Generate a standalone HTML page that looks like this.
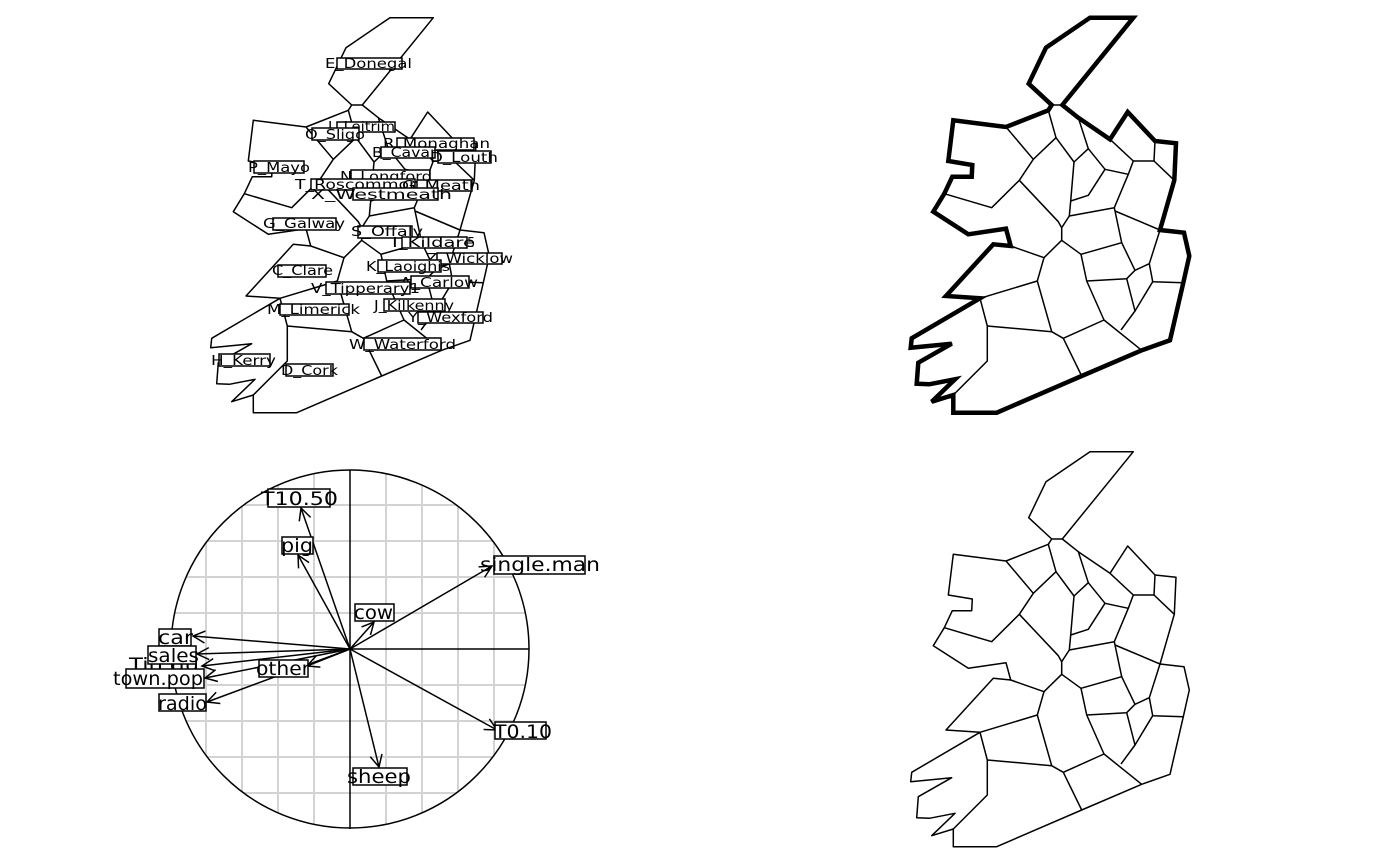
<!DOCTYPE html>
<html><head><meta charset="utf-8"><style>
html,body{margin:0;padding:0;background:#fff;}
svg{display:block;}
.m{font-family:"DejaVu Sans","Liberation Sans",sans-serif;font-size:13px;fill:#000;}
.c{font-family:"DejaVu Sans","Liberation Sans",sans-serif;font-size:19px;fill:#000;}
.b{fill:#fff;stroke:#000;stroke-width:1.5;}
</style></head><body>
<svg width="1400" height="866" viewBox="0 0 1400 866" xmlns="http://www.w3.org/2000/svg">
<defs>
<g id="map" fill="none" stroke="#000" stroke-width="1.5" stroke-linejoin="round">
<path d="M1090,451.7 L1133.3,451.7 L1062.3,539 L1051.7,539 L1028.7,517.7 L1046,481.7 Z"/>
<path d="M1051.7,539 L1048.3,544.3 L1006,561 L953.3,554.3 L948.3,595 L972.3,599 L971.7,610.7 L952.3,610.7 L944.3,627.7 L991.7,641.7 L1019.3,614.3 L1033.3,593.3 L1006,561"/>
<path d="M944.3,627.7 L933.3,645.7 L968.3,668.3 L1006,662.7 L1010.7,680 L993.3,678.3 L946,730 L980,732.3"/>
<path d="M1048.3,544.3 L1056,571.7 L1033.3,593.3"/>
<path d="M1056,571.7 L1074,596 L1070.7,635 L1069.3,650 L1061.7,661.7 L1061.7,674.3 L1044,691.7 L1010.7,680"/>
<path d="M1062.3,539 L1078.3,551.7 L1088.3,582.7 L1074,596"/>
<path d="M1088.3,582.7 L1105,603.3 L1088.3,629.3 L1070.7,635"/>
<path d="M1078.3,551.7 L1110,573.3 L1133.3,595 L1128.3,608.3 L1105,603.3"/>
<path d="M1110,573.3 L1127.7,546 L1155,575 L1154,595 L1133.3,595"/>
<path d="M1155,575 L1176,577.3 L1174.3,614.3 L1154,595"/>
<path d="M1128.3,608.3 L1114.3,641.7 L1069.3,650"/>
<path d="M1114.3,641.7 L1115,645 L1121.7,676.7 L1135,704.3 L1149.3,697.7 L1160,664"/>
<path d="M1115,645 L1160,664"/>
<path d="M1174.3,614.3 L1160,664 L1184,666.7 L1189.3,690 L1183.3,716.7 L1170,774.3 L1141.7,784.3 L1081.7,810 L996.7,846.7 L953.3,846.7 L953.3,829 L931.7,835.7 L955,813.3 L929.3,818.3 L916.7,817.7 L918.3,796.7 L951.7,777.7 L910.7,781.7 L911.7,772.3 L980,732.3"/>
<path d="M1019.3,614.3 L1058.3,655.7 L1061.7,661.7"/>
<path d="M1061.7,674.3 L1081,688.3 L1121.7,676.7"/>
<path d="M1081,688.3 L1086.7,715 L1126.7,712.7 L1135,704.3"/>
<path d="M1126.7,712.7 L1135,745 L1121,764"/>
<path d="M1149.3,697.7 L1152.7,715.7 L1183.3,716.7"/>
<path d="M1152.7,715.7 L1135,745"/>
<path d="M1044,691.7 L1037.3,715 L980,732.3"/>
<path d="M980,732.3 L987.3,760 L987.3,795 L953.3,829"/>
<path d="M987.3,760 L1051.7,765.7 L1037.3,715"/>
<path d="M1051.7,765.7 L1063.3,772.3 L1081.7,810"/>
<path d="M1063.3,772.3 L1104,754 L1086.7,715"/>
<path d="M1104,754 L1141.7,784.3"/>
</g>
<marker id="ah" markerUnits="userSpaceOnUse" markerWidth="30" markerHeight="30" viewBox="-15 -15 30 30" refX="0" refY="0" orient="auto">
<path d="M-12,-6 L0,0 L-12,6" fill="none" stroke="#000" stroke-width="1.5"/>
</marker>
<clipPath id="cc"><circle cx="350" cy="649" r="179"/></clipPath>
</defs>

<!-- bottom-right map -->
<use href="#map"/>
<!-- top-right map -->
<use href="#map" transform="translate(0,-434)"/>
<path transform="translate(0,-434)" fill="none" stroke="#000" stroke-width="4.5" stroke-linejoin="miter" d="M1090,451.7 L1133.3,451.7 L1062.3,539 L1078.3,551.7 L1110,573.3 L1127.7,546 L1155,575 L1176,577.3 L1174.3,614.3 L1160,664 L1184,666.7 L1189.3,690 L1183.3,716.7 L1170,774.3 L1141.7,784.3 L1081.7,810 L996.7,846.7 L953.3,846.7 L953.3,829 L931.7,835.7 L955,813.3 L929.3,818.3 L916.7,817.7 L918.3,796.7 L951.7,777.7 L910.7,781.7 L911.7,772.3 L980,732.3 L946,730 L993.3,678.3 L1010.7,680 L1006,662.7 L968.3,668.3 L933.3,645.7 L944.3,627.7 L952.3,610.7 L971.7,610.7 L972.3,599 L948.3,595 L953.3,554.3 L1006,561 L1048.3,544.3 L1051.7,539 L1028.7,517.7 L1046,481.7 Z"/>
<!-- top-left map -->
<use href="#map" transform="translate(-700,-434)"/>

<!-- top-left labels -->
<g>
<rect class="b" x="337" y="58" width="65" height="11"/><text class="m" x="325" y="68" textLength="87" lengthAdjust="spacingAndGlyphs">E_Donegal</text>
<rect class="b" x="337" y="122" width="58" height="10"/><text class="m" x="328" y="131" textLength="67" lengthAdjust="spacingAndGlyphs">L_Leitrim</text>
<rect class="b" x="312" y="128" width="47" height="12"/><text class="m" x="305" y="139" textLength="60" lengthAdjust="spacingAndGlyphs">O_Sligo</text>
<rect class="b" x="397" y="138" width="77" height="12"/><text class="m" x="383" y="148" textLength="107" lengthAdjust="spacingAndGlyphs">R_Monaghan</text>
<rect class="b" x="381" y="147" width="54" height="11"/><text class="m" x="372" y="157" textLength="68" lengthAdjust="spacingAndGlyphs">B_Cavan</text>
<rect class="b" x="438" y="151" width="53" height="12"/><text class="m" x="430" y="162" textLength="68" lengthAdjust="spacingAndGlyphs">D_Louth</text>
<rect class="b" x="254" y="161" width="50" height="12"/><text class="m" x="248" y="172" textLength="62" lengthAdjust="spacingAndGlyphs">P_Mayo</text>
<rect class="b" x="351" y="170" width="79" height="12"/><text class="m" x="340" y="181" textLength="92" lengthAdjust="spacingAndGlyphs">N_Longford</text>
<rect class="b" x="311" y="179" width="104" height="11"/><text class="m" x="295" y="189" textLength="125" lengthAdjust="spacingAndGlyphs">T_Roscommon</text>
<rect class="b" x="417" y="180" width="55" height="11"/><text class="m" x="402" y="190" textLength="78" lengthAdjust="spacingAndGlyphs">G_Meath</text>
<rect class="b" x="353" y="188" width="85" height="12"/><text class="m" x="311" y="199" textLength="141" lengthAdjust="spacingAndGlyphs">X_Westmeath</text>
<rect class="b" x="273" y="218" width="63" height="12"/><text class="m" x="263" y="228" textLength="82" lengthAdjust="spacingAndGlyphs">G_Galway</text>
<rect class="b" x="358" y="226" width="54" height="12"/><text class="m" x="351" y="236" textLength="72" lengthAdjust="spacingAndGlyphs">S_Offaly</text>
<rect class="b" x="402" y="237" width="65" height="11"/><text class="m" x="392" y="247" textLength="83" lengthAdjust="spacingAndGlyphs">I_Kildare</text><text class="m" x="467" y="247">5</text>
<rect class="b" x="437" y="253" width="65" height="11"/><text class="m" x="426" y="263" textLength="87" lengthAdjust="spacingAndGlyphs">Z_Wicklow</text>
<rect class="b" x="378" y="260" width="63" height="12"/><text class="m" x="366" y="271" textLength="84" lengthAdjust="spacingAndGlyphs">K_Laoighis</text>
<rect class="b" x="278" y="265" width="48" height="12"/><text class="m" x="272" y="275" textLength="61" lengthAdjust="spacingAndGlyphs">C_Clare</text>
<rect class="b" x="411" y="276" width="58" height="12"/><text class="m" x="400" y="287" textLength="78" lengthAdjust="spacingAndGlyphs">A_Carlow</text>
<rect class="b" x="326" y="282" width="84" height="12"/><text class="m" x="311" y="293" textLength="109" lengthAdjust="spacingAndGlyphs">V_Tipperary1</text>
<rect class="b" x="384" y="299" width="61" height="12"/><text class="m" x="374" y="310" textLength="80" lengthAdjust="spacingAndGlyphs">J_Kilkenny</text>
<rect class="b" x="280" y="304" width="69" height="11"/><text class="m" x="267" y="314" textLength="93" lengthAdjust="spacingAndGlyphs">M_Limerick</text>
<rect class="b" x="418" y="312" width="65" height="11"/><text class="m" x="408" y="322" textLength="85" lengthAdjust="spacingAndGlyphs">Y_Wexford</text>
<rect class="b" x="364" y="338" width="77" height="12"/><text class="m" x="349" y="349" textLength="107" lengthAdjust="spacingAndGlyphs">W_Waterford</text>
<rect class="b" x="219" y="354" width="51" height="12"/><text class="m" x="211" y="365" textLength="65" lengthAdjust="spacingAndGlyphs">H_Kerry</text>
<rect class="b" x="286" y="364" width="47" height="12"/><text class="m" x="281" y="375" textLength="57" lengthAdjust="spacingAndGlyphs">D_Cork</text>
</g>

<!-- correlation circle -->
<g clip-path="url(#cc)" stroke="#d3d3d3" stroke-width="2">
<path d="M170,469 V830 M206,469 V830 M242,469 V830 M278,469 V830 M314,469 V830 M386,469 V830 M422,469 V830 M458,469 V830 M494,469 V830 M171,469 H530 M171,505 H530 M171,541 H530 M171,577 H530 M171,613 H530 M171,685 H530 M171,721 H530 M171,757 H530 M171,793 H530"/>
</g>
<circle cx="350" cy="649" r="179" fill="none" stroke="#000" stroke-width="1.5"/>
<path d="M350,470 V829 M350,649 H529" stroke="#000" stroke-width="1.5"/>
<g stroke="#000" stroke-width="1.5" marker-end="url(#ah)">
<line x1="350" y1="649" x2="301" y2="508"/>
<line x1="350" y1="649" x2="298" y2="555"/>
<line x1="350" y1="649" x2="492" y2="566"/>
<line x1="350" y1="649" x2="374" y2="622"/>
<line x1="350" y1="649" x2="497" y2="730"/>
<line x1="350" y1="649" x2="379" y2="767"/>
<line x1="350" y1="649" x2="193" y2="636"/>
<line x1="350" y1="649" x2="197" y2="654"/>
<line x1="350" y1="649" x2="202" y2="666"/>
<line x1="350" y1="649" x2="205" y2="678"/>
<line x1="350" y1="649" x2="307" y2="666"/>
<line x1="350" y1="649" x2="207" y2="702"/>
</g>
<g>
<rect class="b" x="268" y="489" width="62" height="18"/><text class="c" x="261" y="505" textLength="77" lengthAdjust="spacingAndGlyphs">T10.50</text>
<rect class="b" x="282" y="537" width="31" height="17"/><text class="c" x="281" y="552" textLength="32" lengthAdjust="spacingAndGlyphs">pig</text>
<rect class="b" x="494" y="556" width="91" height="18"/><text class="c" x="480" y="571" textLength="120" lengthAdjust="spacingAndGlyphs">single.man</text>
<rect class="b" x="355" y="604" width="39" height="17"/><text class="c" x="354" y="619" textLength="39" lengthAdjust="spacingAndGlyphs">cow</text>
<rect class="b" x="495" y="722" width="51" height="17"/><text class="c" x="494" y="738" textLength="58" lengthAdjust="spacingAndGlyphs">T0.10</text>
<rect class="b" x="353" y="768" width="54" height="17"/><text class="c" x="347" y="783" textLength="64" lengthAdjust="spacingAndGlyphs">sheep</text>
<rect class="b" x="159" y="629" width="32" height="17"/><text class="c" x="158" y="644" textLength="35" lengthAdjust="spacingAndGlyphs">car</text>
<text class="c" x="129" y="671" textLength="70" lengthAdjust="spacingAndGlyphs">Tin.nu</text>
<rect class="b" x="148" y="646" width="48" height="18"/><text class="c" x="148" y="662" textLength="51" lengthAdjust="spacingAndGlyphs">sales</text>
<rect class="b" x="126" y="669" width="78" height="19"/><text class="c" x="113" y="685" textLength="90" lengthAdjust="spacingAndGlyphs">town.pop</text>
<rect class="b" x="259" y="660" width="49" height="17"/><text class="c" x="256" y="675" textLength="54" lengthAdjust="spacingAndGlyphs">other</text>
<rect class="b" x="159" y="694" width="47" height="17"/><text class="c" x="158" y="710" textLength="49" lengthAdjust="spacingAndGlyphs">radio</text>
</g>
</svg>
</body></html>
